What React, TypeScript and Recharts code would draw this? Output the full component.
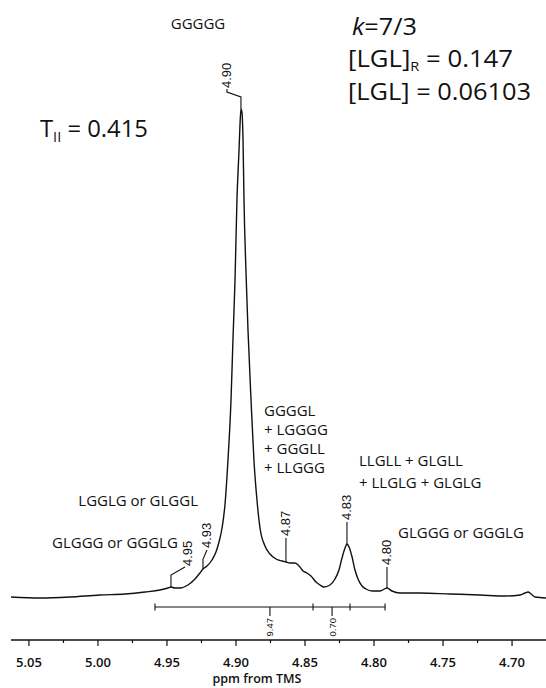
import { LineChart, Line, XAxis, YAxis, ReferenceDot, ReferenceLine } from "recharts";

// 1H NMR spectrum, methine region (ppm from TMS), intensity in arbitrary units
const shifts = [
  5.063, 5.042, 5.0203, 4.9986, 4.9804, 4.9659, 4.9551, 4.9493, 4.9471, 4.9442,
  4.9406, 4.9348, 4.9297, 4.9261, 4.9239, 4.921, 4.9174, 4.9145, 4.9123, 4.9101,
  4.908, 4.9058, 4.9036, 4.9022, 4.9007, 4.8993, 4.8978, 4.8971, 4.8964, 4.8957,
  4.8949, 4.8942, 4.8928, 4.8913, 4.8891, 4.887, 4.8848, 4.8826, 4.879, 4.8754,
  4.871, 4.8667, 4.8638, 4.8609, 4.8572, 4.8543, 4.8514, 4.8486, 4.8457, 4.842,
  4.8391, 4.8362, 4.8319, 4.8283, 4.8254, 4.8232, 4.821, 4.8196, 4.8181, 4.8159,
  4.8138, 4.8116, 4.8087, 4.8058, 4.8014, 4.7957, 4.7906, 4.787, 4.7812, 4.7667,
  4.7449, 4.7232, 4.7051, 4.6942, 4.6906, 4.6884, 4.6862, 4.6833, 4.6754,
];
const intensity = [
  0.0, -0.2, 0.0, 0.4, 0.6, 1.0, 1.4, 1.8, 2.0, 1.8,
  1.8, 2.4, 3.6, 4.8, 5.6, 6.2, 7.4, 9.0, 11.0, 13.8,
  18.4, 27.4, 39.4, 51.4, 63.4, 79.4, 89.4, 94.4, 97.6, 97.0,
  91.4, 79.4, 65.4, 53.4, 39.4, 27.4, 19.4, 13.8, 10.2, 8.6,
  7.6, 7.2, 7.0, 6.8, 6.8, 6.2, 5.2, 4.8, 4.2, 3.0,
  2.4, 2.0, 2.4, 3.6, 5.4, 7.8, 9.8, 10.6, 10.0, 8.0,
  5.4, 3.6, 2.2, 1.6, 1.2, 1.2, 1.8, 1.2, 0.8, 0.8,
  0.6, 0.4, 0.2, 0.4, 0.8, 1.0, 0.6, 0.0, -0.2,
];

// peak picks
const peakShifts = [4.9471, 4.9239, 4.8964, 4.8638, 4.8196, 4.7906];
const peakHeights = [2.0, 5.6, 97.6, 7.0, 10.6, 1.8];
const peakTexts = ["4.95", "4.93", "4.90", "4.87", "4.83", "4.80"];

// integration
const integralBounds = [4.9587, 4.8442, 4.8174, 4.792];
const integralLevel = -2;
const integralLabelShifts = [4.8754, 4.8304];
const integralTexts = ["9.47", "0.70"];

// axis
const majorTicks = [5.05, 5.0, 4.95, 4.9, 4.85, 4.8, 4.75, 4.7];
const minorTicks = [5.025, 4.975, 4.925, 4.875, 4.825, 4.775, 4.725];

const data = shifts.map((s, i) => ({ ppm: s, y: intensity[i] }));

const INK = "#111";
const LABEL_FONT = "'Liberation Sans', Arial, sans-serif";
const TEXT_FONT = "'Open Sans', 'Noto Sans', sans-serif";

// leader line (dx,dy points from the peak) and where the rotated text starts
const leaders: { path: [number, number][]; text: [number, number] }[] = [
  { path: [[0, 0], [0, -12], [14, -20]], text: [17, -21] },
  { path: [[0, 0], [0, -10], [4, -19]], text: [4, -21] },
  { path: [[0, 0], [0, -12], [-14, -17], [-14, -20]], text: [-14, -21] },
  { path: [[0, 0], [0, -24]], text: [0, -26] },
  { path: [[0, 0], [0, -22]], text: [0, -24] },
  { path: [[0, 0], [0, -21]], text: [0, -23] },
];

const PeakLabel = (i: number) => (p: any) => {
  const { cx, cy } = p;
  const l = leaders[i];
  const d = l.path.map(([dx, dy], k) => `${k ? "L" : "M"}${cx + dx},${cy + dy}`).join(" ");
  const tx = cx + l.text[0];
  const ty = cy + l.text[1];
  return (
    <g>
      <path d={d} fill="none" stroke={INK} strokeWidth={1.1} />
      <text
        x={tx}
        y={ty}
        transform={`rotate(-90 ${tx} ${ty})`}
        dominantBaseline="central"
        fontSize={13}
        fontFamily={LABEL_FONT}
        fill={INK}
      >
        {peakTexts[i]}
      </text>
    </g>
  );
};

const IntegralTick = (p: any) => (
  <line x1={p.cx} x2={p.cx} y1={p.cy - 3.5} y2={p.cy + 3.5} stroke={INK} strokeWidth={1.1} />
);

const IntegralValue = (i: number) => (p: any) => {
  const { cx, cy } = p;
  const ty = cy + 11;
  return (
    <g>
      <line x1={cx} x2={cx} y1={cy} y2={cy + 9} stroke={INK} strokeWidth={1.1} />
      <text
        x={cx}
        y={ty}
        transform={`rotate(-90 ${cx} ${ty})`}
        dominantBaseline="central"
        textAnchor="end"
        fontSize={9.5}
        fontFamily={LABEL_FONT}
        fill={INK}
      >
        {integralTexts[i]}
      </text>
    </g>
  );
};

const AxisTick = (props: any) => {
  const { x, y, payload } = props;
  const v = payload.value as number;
  const major = majorTicks.some((t) => Math.abs(t - v) < 1e-6);
  return (
    <g>
      <line x1={x} x2={x} y1={y} y2={y + (major ? 6 : 3)} stroke={INK} strokeWidth={1.2} />
      {major && (
        <text
          x={x}
          y={y + 27}
          textAnchor="middle"
          fontSize={13}
          fontWeight={600}
          fontFamily={TEXT_FONT}
          fill={INK}
        >
          {v.toFixed(2)}
        </text>
      )}
    </g>
  );
};

export default function App() {
  return (
    <div style={{ position: "absolute", left: 0, top: 0, width: 546, height: 688, background: "#fff" }}>
      <LineChart width={546} height={688} data={data} margin={{ top: 40, right: 0, bottom: 0, left: 11 }}>
        <XAxis
          dataKey="ppm"
          type="number"
          domain={[4.6754, 5.063]}
          reversed
          allowDataOverflow
          ticks={[...majorTicks, ...minorTicks]}
          interval={0}
          height={48}
          tickLine={false}
          tickSize={0}
          tickMargin={0}
          axisLine={{ stroke: INK, strokeWidth: 1.3 }}
          tick={AxisTick}
        />
        <YAxis hide type="number" domain={[-8.6, 111.4]} allowDataOverflow />
        <Line
          type="monotone"
          dataKey="y"
          stroke={INK}
          strokeWidth={1.4}
          dot={false}
          isAnimationActive={false}
        />
        <ReferenceLine
          segment={[
            { x: integralBounds[0], y: integralLevel },
            { x: integralBounds[integralBounds.length - 1], y: integralLevel },
          ]}
          stroke={INK}
          strokeWidth={1.1}
        />
        {integralBounds.map((b) => (
          <ReferenceDot key={`ib${b}`} x={b} y={integralLevel} r={0} shape={IntegralTick} />
        ))}
        {integralLabelShifts.map((s, i) => (
          <ReferenceDot key={`il${s}`} x={s} y={integralLevel} r={0} shape={IntegralValue(i)} />
        ))}
        {peakShifts.map((s, i) => (
          <ReferenceDot key={`pk${s}`} x={s} y={peakHeights[i]} r={0} shape={PeakLabel(i)} />
        ))}
      </LineChart>
      <svg
        width={546}
        height={688}
        style={{ position: "absolute", left: 0, top: 0, pointerEvents: "none" }}
        fontFamily={TEXT_FONT}
        fill={INK}
      >
        <text x={257} y={683} textAnchor="middle" fontSize={12.5} fontWeight={600}>
          ppm from TMS
        </text>
        <text x={198} y={29} textAnchor="middle" fontSize={15}>GGGGG</text>
        <text fontSize={15}>
          <tspan x={264} y={416}>GGGGL</tspan>
          <tspan x={264} y={435}>+ LGGGG</tspan>
          <tspan x={264} y={454}>+ GGGLL</tspan>
          <tspan x={264} y={473}>+ LLGGG</tspan>
        </text>
        <text fontSize={15}>
          <tspan x={359} y={466}>LLGLL + GLGLL</tspan>
          <tspan x={359} y={488}>+ LLGLG + GLGLG</tspan>
        </text>
        <text x={398} y={538} fontSize={15}>GLGGG or GGGLG</text>
        <text x={198} y={506} textAnchor="end" fontSize={15}>LGGLG or GLGGL</text>
        <text x={52} y={548} fontSize={15}>GLGGG or GGGLG</text>

        <text x={352} y={35} fontSize={23} textLength={65} lengthAdjust="spacingAndGlyphs">
          <tspan fontStyle="italic">k</tspan>=7/3
        </text>
        <text x={348} y={67} fontSize={23} textLength={165} lengthAdjust="spacingAndGlyphs">
          [LGL]<tspan fontSize={13} dy={4}>R</tspan>
          <tspan dy={-4}> = 0.147</tspan>
        </text>
        <text x={348} y={100} fontSize={23} textLength={183} lengthAdjust="spacingAndGlyphs">
          [LGL] = 0.06103
        </text>
        <text x={40} y={137} fontSize={23} textLength={108} lengthAdjust="spacingAndGlyphs">
          T<tspan fontSize={14} dy={5}>II</tspan>
          <tspan dy={-5}> = 0.415</tspan>
        </text>
      </svg>
    </div>
  );
}
